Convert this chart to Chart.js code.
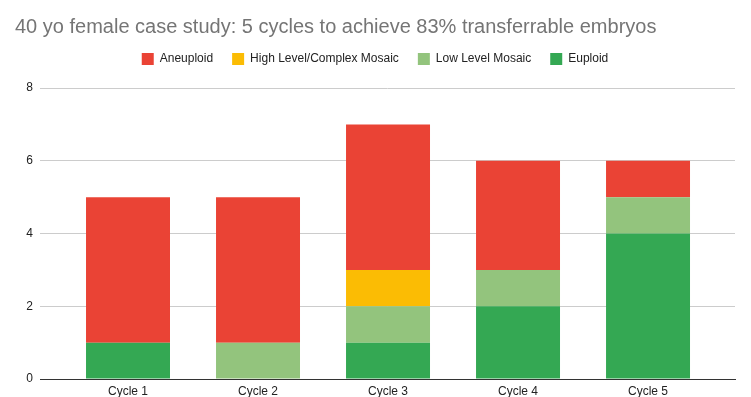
<!DOCTYPE html>
<html>
<head>
<meta charset="utf-8">
<script src="https://cdn.jsdelivr.net/npm/chart.js@4"></script>
<style>
  body { margin: 0; background: #fff; }
  #wrap { width: 751px; height: 397px; }
</style>
</head>
<body>
<div id="wrap"><canvas id="chart"></canvas></div>
<script>
// Chart data
const cycles = ["Cycle 1", "Cycle 2", "Cycle 3", "Cycle 4", "Cycle 5"];

const euploid = [1, 0, 1, 2, 4];
const lowMosaic = [0, 1, 1, 1, 1];
const highMosaic = [0, 0, 1, 0, 0];
const aneuploid = [4, 4, 4, 3, 1];

const yTicks = [0, 2, 4, 6, 8];

const titleText = "40 yo female case study: 5 cycles to achieve 83% transferrable embryos";

// x is a linear index axis so the grid can run past the outer bars
function points(values) {
    return values.map((v, i) => ({ x: i, y: v }));
}

// extra room between legend and plot
const legendSpace = {
    id: "legendSpace",
    beforeInit(chart) {
        const fit = chart.legend.fit;
        chart.legend.fit = function () {
            fit.bind(chart.legend)();
            this.height += 13;
        };
    }
};

Chart.defaults.font.family = "'Liberation Sans', Arial, sans-serif";
Chart.defaults.color = "#222";

new Chart(document.getElementById("chart"), {
    type: "bar",
    plugins: [legendSpace],
    data: {
        datasets: [
            { label: "Euploid", data: points(euploid), backgroundColor: "#34A853" },
            { label: "Low Level Mosaic", data: points(lowMosaic), backgroundColor: "#93C47D" },
            { label: "High Level/Complex Mosaic", data: points(highMosaic), backgroundColor: "#FBBC04" },
            { label: "Aneuploid", data: points(aneuploid), backgroundColor: "#EA4335" }
        ]
    },
    options: {
        responsive: true,
        maintainAspectRatio: false,
        animation: false,
        datasets: {
            bar: { barPercentage: 1, categoryPercentage: 0.646, borderWidth: 0 }
        },
        layout: { padding: { left: 15, right: 16, top: 12, bottom: 0 } },
        plugins: {
            tooltip: { enabled: false },
            title: {
                display: true,
                text: titleText,
                align: "start",
                color: "#757575",
                font: { size: 20, weight: "normal" },
                padding: { top: 3, bottom: -5 }
            },
            legend: {
                reverse: true,
                labels: {
                    boxWidth: 12,
                    boxHeight: 12,
                    padding: 19,
                    font: { size: 12 },
                    color: "#222"
                }
            }
        },
        scales: {
            x: {
                type: "linear",
                stacked: true,
                offset: false,
                min: -0.677,
                max: 4.669,
                afterBuildTicks: axis => {
                    axis.ticks = cycles.map((c, i) => ({ value: i }));
                },
                afterFit: axis => {
                    axis.height = 18;
                },
                ticks: {
                    callback: v => cycles[v],
                    color: "#222",
                    font: { size: 12 },
                    padding: 5,
                    maxRotation: 0
                },
                grid: { display: false, drawTicks: false },
                border: { display: true, color: "#333", width: 1 }
            },
            y: {
                stacked: true,
                min: 0,
                max: 8,
                afterBuildTicks: axis => {
                    axis.ticks = yTicks.map(v => ({ value: v }));
                },
                afterFit: axis => {
                    axis.width = 25;
                },
                ticks: {
                    color: "#222",
                    font: { size: 12 },
                    padding: 7
                },
                grid: {
                    color: ctx => ctx.tick && ctx.tick.value === 0 ? "#333" : "#ccc",
                    drawTicks: false
                },
                border: { display: false }
            }
        }
    }
});
</script>
</body>
</html>
